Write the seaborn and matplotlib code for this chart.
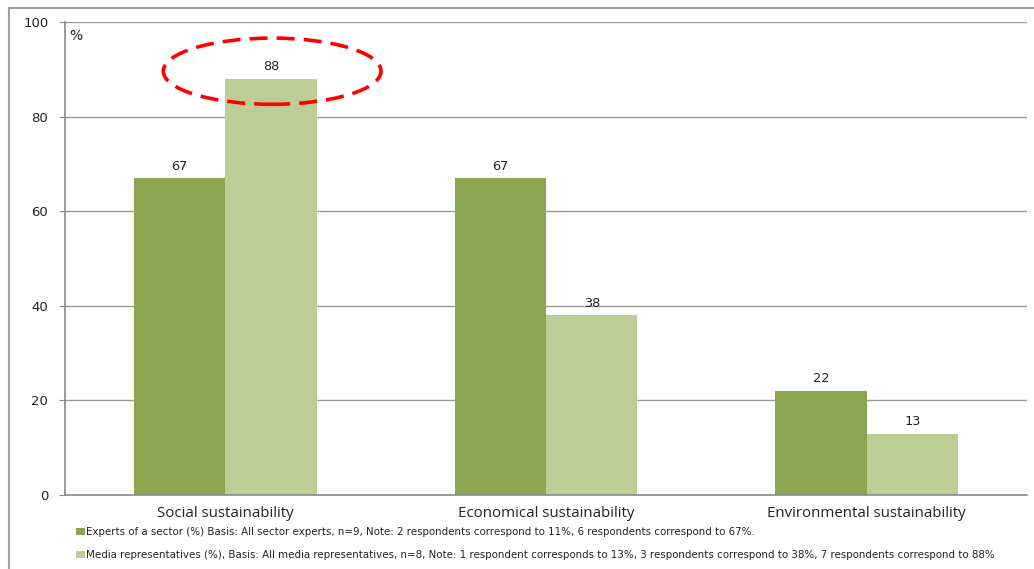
import matplotlib
matplotlib.use("Agg")
import matplotlib.pyplot as plt
import seaborn as sns
import pandas as pd
from matplotlib.patches import Ellipse, Rectangle, Patch

categories = ["Social sustainability", "Economical sustainability", "Environmental sustainability"]
series_names = [
    "Experts of a sector (%) Basis: All sector experts, n=9, Note: 2 respondents correspond to 11%, 6 respondents correspond to 67%.",
    "Media representatives (%), Basis: All media representatives, n=8, Note: 1 respondent corresponds to 13%, 3 respondents correspond to 38%, 7 respondents correspond to 88%",
]
experts = [67, 67, 22]
media = [88, 38, 13]
yticks = [0, 20, 40, 60, 80, 100]
colors = ["#8BA650", "#BACE96"]

df = pd.DataFrame({
    "category": categories * 2,
    "series": [series_names[0]] * 3 + [series_names[1]] * 3,
    "value": experts + media,
})

sns.set_style("white")
plt.rcParams["font.family"] = ["DejaVu Sans"]

fig = plt.figure(figsize=(10.34, 5.69), dpi=100)
ax = fig.add_axes([65 / 1034, 1 - 495 / 569, (1027 - 65) / 1034, (495 - 22) / 569])

sns.barplot(data=df, x="category", y="value", hue="series", order=categories,
            hue_order=series_names, palette=colors, width=0.57, saturation=1,
            ax=ax, legend=False, edgecolor="none", linewidth=0)

for cont in ax.containers:
    ax.bar_label(cont, fmt="%d", padding=4, fontsize=9.3, color="#222222")

ax.set_xlim(-0.5, 2.5)
ax.set_ylim(0, 100)
ax.set_yticks(yticks)
ax.set_yticklabels([str(t) for t in yticks], fontsize=9.5, color="#222222")
ax.yaxis.grid(True, color="#9a9a9a", linewidth=1)
ax.set_axisbelow(True)
ax.set_xlabel("")
ax.set_ylabel("")
ax.set_xticks(range(len(categories)))
ax.set_xticklabels(categories, fontsize=10.8, color="#222222", family="Open Sans")
ax.set_xticks([0.5, 1.5, 2.5], minor=True)
ax.tick_params(axis="x", which="major", length=0, pad=8)
ax.tick_params(axis="x", which="minor", length=4, color="#8a8a8a", direction="out")
ax.tick_params(axis="y", length=4, color="#8a8a8a", direction="out", left=True, pad=8)
for s in ["top", "right"]:
    ax.spines[s].set_visible(False)
for s in ["left", "bottom"]:
    ax.spines[s].set_color("#8a8a8a")
    ax.spines[s].set_linewidth(1.2)

ax.text(0.004, 0.985, "%", transform=ax.transAxes, fontsize=10, va="top", ha="left", color="#222222")

ell = Ellipse((0.146, 89.6), 0.679, 14, fill=False, edgecolor="#FF0000",
              linestyle=(0, (5, 2.5)), linewidth=2.6, clip_on=False, zorder=5)
ax.add_patch(ell)

handles = [Patch(facecolor=c, edgecolor="none") for c in colors]
fig.legend(handles, series_names, loc="upper left", bbox_to_anchor=(76 / 1034, 1 - 527 / 569),
           frameon=False, fontsize=7.4, handlelength=0.9, handleheight=0.6,
           handletextpad=0.1, labelspacing=1.3, borderaxespad=0, borderpad=0,
           labelcolor="#222222")

frame = Rectangle((9 / 1034, -0.05), 1.1, 1 - 8 / 569 + 0.05, transform=fig.transFigure,
                  fill=False, edgecolor="#a0a0a0", linewidth=1.5)
fig.patches.append(frame)

fig.savefig("out.png", dpi=100)
